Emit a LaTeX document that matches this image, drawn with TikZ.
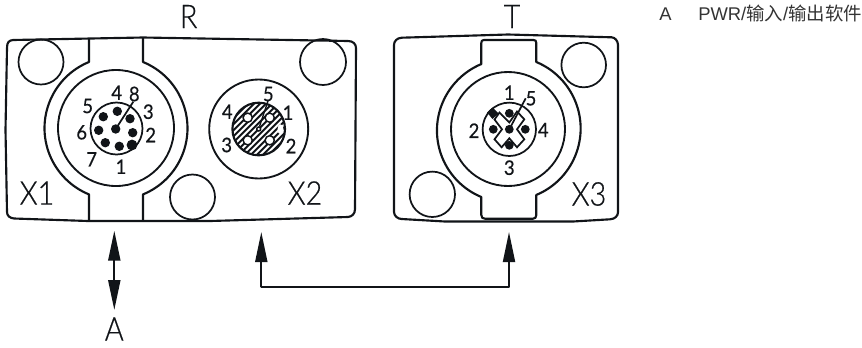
\documentclass[tikz,border=0pt]{standalone}
\usepackage{fontspec}
\usetikzlibrary{arrows.meta}
\setmainfont{Liberation Sans}
\newfontfamily\din[FakeStretch=.92,FakeBold=.5]{Lato}
\newfontfamily\dinlight[FakeStretch=.88,FakeBold=.5]{Lato Light}
\newfontfamily\cjk{Noto Sans CJK SC}
\definecolor{ink}{HTML}{111418}
\definecolor{legend}{HTML}{333333}
\tikzset{
  x=.75pt,y=-.75pt,
  edge/.style={draw=ink,line width=1.6pt,line join=round},
  thin edge/.style={draw=ink,line width=1.3pt},
  biglabel/.style={text=ink,inner sep=0pt,font=\dinlight\fontsize{24.5pt}{26pt}\selectfont},
  pinlabel/.style={text=ink,inner sep=0pt,font=\din\fontsize{15pt}{16pt}\selectfont},
  legendtext/.style={text=legend,inner sep=0pt,anchor=base west,font=\fontsize{13.8pt}{16pt}\selectfont},
  pin/.style={fill=ink,draw=none},
  hole/.style={fill=white,draw=ink,line width=1.1pt},
  flow/.style={draw=ink,line width=1.4pt,-{Triangle[length=22.5pt,width=9pt]}},
  flowboth/.style={draw=ink,line width=1.6pt,{Triangle[length=22.5pt,width=9pt]}-{Triangle[length=22.5pt,width=9pt]}},
}
\begin{document}
\begin{tikzpicture}
\useasboundingbox (0,0) rectangle (862,347);
% body R
\draw[edge] (5.5,130) -- (7,48) .. controls (7,42) and (9,40.5) .. (13,40) -- (143,37.5) -- (348,41)
  .. controls (353,41) and (356,44) .. (356,48) -- (355.5,130) -- (355,209)
  .. controls (355,214) and (352,216.5) .. (348,217) -- (210,221) -- (88,221) -- (14,218.5)
  .. controls (10,218) and (7,216) .. (7,212) -- cycle;
% X1 socket outline
\draw[edge] (89,38) -- (89,62) arc[start angle=247.8,end angle=112.2,radius=71.5] -- (89,220.5);
\draw[edge] (143,38) -- (143,62) arc[start angle=-67.8,end angle=67.8,radius=71.5] -- (143,220.5);
\draw[thin edge,line width=1.4pt] (116,128) circle[radius=58];
\draw[thin edge] (116.5,128.5) circle[radius=26];
% fixing holes R
\draw[thin edge] (41,62) circle[radius=22.5];
\draw[thin edge] (323,62) circle[radius=23];
\draw[thin edge] (192.5,197) circle[radius=22.5];
% X1 pins
\foreach \px/\py in {117.3/111.3,130/118.7,132.7/132.7,119.3/146.3,105.3/142.7,98.7/130.3,103.3/116.7,115.7/129}
  \fill[pin] (\px,\py) circle[radius=4.7];
\fill[pin] (132,145) circle[radius=5.4];
\draw[thin edge] (115.7,129) -- (133.3,101.7);
\node[pinlabel] (xa4) at (116.7,92.7) {4};
\node[pinlabel] (xa8) at (134.3,94) {8};
\node[pinlabel] (xa3) at (148.3,111.7) {3};
\node[pinlabel] (xa2) at (150.7,135) {2};
\node[pinlabel] (xa1) at (121,166.7) {1};
\node[pinlabel] (xa7) at (91.7,159.3) {7};
\node[pinlabel] (xa6) at (81.7,132.3) {6};
\node[pinlabel] (xa5) at (87.7,106) {5};
% X2 connector
\draw[thin edge,line width=1.4pt] (258.7,129) circle[radius=49.5];
\begin{scope}
  \clip (258.7,129) circle[radius=26.3];
  \foreach \k in {-9,...,9}
    \draw[ink,line width=1.4pt] (258.7-40+\k*6,129+40) -- (258.7+40+\k*6,129-40);
\end{scope}
\draw[thin edge,line width=1.6pt] (258.7,129) circle[radius=26.3];
\foreach \px/\py in {247.7/117.7,269.7/117.7,247.7/140.3,269.7/140.3}
  \draw[hole] (\px,\py) circle[radius=4.6];
\draw[hole] (258.7,129) circle[radius=2];
\fill[white] (280.5,129.3) ellipse[x radius=3,y radius=5];
\draw[thin edge,line width=1pt] (268.3,100) -- (259.5,126.5);
\node[pinlabel] (xb5) at (268.3,94) {5};
\node[pinlabel] (xb1) at (288,112.7) {1};
\node[pinlabel] (xb2) at (291,146) {2};
\node[pinlabel] (xb3) at (226.7,145) {3};
\node[pinlabel] (xb4) at (227.3,111.7) {4};
% body T
\draw[edge] (394,45) .. controls (394,41) and (397,38) .. (401.7,37.7) -- (508,34.5) -- (611.7,37.3)
  .. controls (615,37.5) and (618,41) .. (618,45) -- (618,212)
  .. controls (618,216) and (615,219) .. (610,219.3) -- (573,221.5) -- (445,221.5) -- (401.7,219)
  .. controls (398,219) and (394,216) .. (394,212) -- cycle;
% X3 socket outline
\draw[edge] (481.3,197) arc[start angle=112.6,end angle=247.4,radius=72] -- (481.3,43)
  .. controls (481.3,41) and (482,40) .. (484,40) -- (533.5,40) .. controls (535.5,40) and (536.3,41) .. (536.3,43)
  -- (536.3,62) arc[start angle=-67.4,end angle=67.4,radius=72] -- (536.3,215)
  .. controls (536.3,217.5) and (535,218.7) .. (533,218.7) -- (485,218.7)
  .. controls (482.5,218.7) and (481.3,217.5) .. (481.3,215) -- cycle;
\draw[thin edge,line width=1.4pt] (508,129) circle[radius=57];
\draw[thin edge] (509.3,129.3) circle[radius=26.7];
\draw[thin edge] (583.7,65) circle[radius=22.3];
\draw[thin edge] (432.3,194.3) circle[radius=22.7];
% X3 key
\draw[thin edge,line join=miter] (509.3,122.5) -- (499.5,112.5) -- (494.5,119.5) -- (502,129.3) -- (494.5,139.3) -- (501.6,147.3)
  -- (509.3,138.3) -- (517,147.3) -- (524.3,139.3) -- (517,129.3) -- (524.3,119.3) -- (517,111.5) -- cycle;
\foreach \px/\py in {509.3/113.3,493.3/129.3,525.3/129.3,509.3/145.3,509.3/129.3}
  \fill[pin] (\px,\py) circle[radius=4.4];
\fill[pin] (492.5,107.5) -- (498.5,113.5) -- (492.5,119) -- (487,112.5) -- cycle;
\draw[thin edge] (509.3,129.3) -- (525.7,98.3);
\node[pinlabel] (xc1) at (509.3,92.7) {1};
\node[pinlabel] (xc5) at (531,98.3) {5};
\node[pinlabel] (xc2) at (474,130.7) {2};
\node[pinlabel] (xc4) at (543.3,130) {4};
\node[pinlabel] (xc3) at (509.3,167.7) {3};
% big labels
\node[biglabel] (lr) at (188.7,16.5) {R};
\node[biglabel] (lt) at (512,16.5) {T};
\node[biglabel] (lxa) at (37,193) {X1};
\node[biglabel] (lxb) at (305,193) {X2};
\node[biglabel] (lxc) at (589,194) {X3};
\node[biglabel] (la) at (114.3,329) {A};
% connectors
\coordinate (ua) at (114.3,230.7);
\coordinate (ub) at (114.3,310);
\draw[flowboth] (ua) -- (ub);
\coordinate (va) at (261.3,232);
\coordinate (vb) at (509,232);
\coordinate (vc) at (261.3,287.3);
\coordinate (vd) at (509,287.3);
\draw[flow] (vc) -- (va);
\draw[flow] (vd) -- (vb);
\draw[draw=ink,line width=1.4pt,line cap=round] (vc) -- (vd);
% legend
\node[legendtext] (ka) at (659,20.5) {A};
\node[legendtext] (kb) at (698,20.5) {PWR/{\cjk 输入}/{\cjk 输出软件}};
\end{tikzpicture}
\end{document}
